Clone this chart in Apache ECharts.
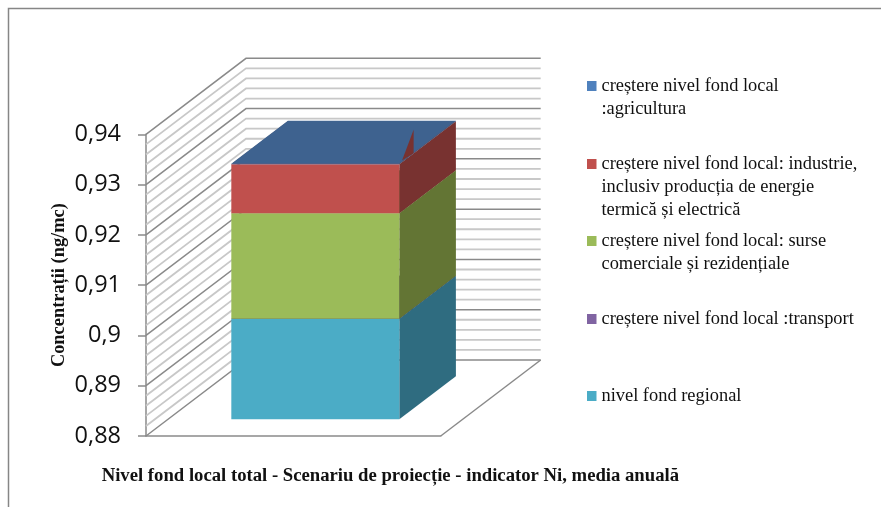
<!DOCTYPE html>
<html><head><meta charset="utf-8">
<style>html,body{margin:0;padding:0;background:#fff}#c{width:881px;height:507px}</style>
<script src="https://cdn.jsdelivr.net/npm/echarts@6/dist/echarts.min.js"></script>
</head><body><div id="c"></div>
<script>
const categories = ['Nivel fond local total'];
const regional = [0.9];
const transport = [0];
const comercial = [0.021];
const industrie = [0.0097];
const agricultura = [0.0001];
const wallValues = [0.88,0.882,0.884,0.886,0.888,0.89,0.892,0.894,0.896,0.898,0.9,0.902,0.904,0.906,0.908,0.91,0.912,0.914,0.916,0.918,0.92,0.922,0.924,0.926,0.928,0.93,0.932,0.934,0.936,0.938,0.94];
const majorValues = [0.88,0.89,0.9,0.91,0.92,0.93,0.94];
const names = ['nivel fond regional','creștere nivel fond local :transport','creștere nivel fond local: surse comerciale și rezidențiale','creștere nivel fond local: industrie, inclusiv producția de energie termică și electrică','creștere nivel fond local :agricultura'];
const legendLabels = {
  [names[4]]: '\ncreștere nivel fond local\n:agricultura',
  [names[3]]: '\n\ncreștere nivel fond local: industrie,\ninclusiv producția de energie\ntermică și electrică',
  [names[2]]: '\ncreștere nivel fond local: surse\ncomerciale și rezidențiale',
  [names[1]]: 'creștere nivel fond local :transport',
  [names[0]]: 'nivel fond regional'
};
const frontColors = ['#4BACC6','#8064A2','#9BBB59','#C0504D','#4F81BD'];
const sideColors = ['#2F6C80','#4C3C62','#637534','#783230','#3E628F'];
const topColors = ['#2F6C80','#4C3C62','#637534','#783230','#3E628F'];
const legendTops = [384.5,307.5,206.5,106.5,51.5];

const DX = 100, DY = 76;          // wall depth on screen
const BAR_F = 16.7 / 76, BAR_B = 59.7 / 76; // bar front/back position inside the depth
const BAR_W = 168;

function poly(points, fill) {
  return {type:'polygon', shape:{points}, style:{fill, stroke:null}};
}
function wallRender(params, api) {
  const v = api.value(1), major = api.value(2) === 1;
  const cs = params.coordSys;
  const y = api.coord([0, v])[1];
  const style = {stroke: major ? '#8a8a8a' : '#c8c8c8', lineWidth: major ? 1.5 : 1.8, fill:null};
  return {type:'polyline', z2: major ? 2 : 1, shape:{points:[[cs.x,y],[cs.x+DX,y-DY],[cs.x+cs.width+DX,y-DY]]}, style};
}
function floorRender(params, api) {
  const cs = params.coordSys;
  const y = cs.y + cs.height, x = cs.x + cs.width;
  return {type:'line', shape:{x1:x,y1:y,x2:x+DX,y2:y-DY}, style:{stroke:'#8a8a8a',lineWidth:1.5}};
}
function barRender(params, api) {
  const i = api.value(3);
  const p0 = api.coord([api.value(0), api.value(1)]);
  const p1 = api.coord([api.value(0), api.value(2)]);
  const fx = DX*BAR_F, fy = DY*BAR_F, sx = DX*(BAR_B-BAR_F), sy = DY*(BAR_B-BAR_F);
  const l = p0[0] - BAR_W/2 + fx, r = l + BAR_W, b = p0[1]-fy, t = p1[1]-fy;
  const ch = [];
  ch.push(poly([[r,b],[r+sx,b-sy],[r+sx,t-sy],[r,t]], sideColors[i]));
  ch.push(poly([[l,t],[r,t],[r+sx,t-sy],[l+sx,t-sy]], topColors[i]));
  ch.push(poly([[l,b],[r,b],[r,t],[l,t]], frontColors[i]));
  if (i === 4) {
    ch.push(poly([[r+2.7,t-3.3],[r+14.3,t-34],[r+14.3,t-10.7]], sideColors[3]));
  }
  return {type:'group', children:ch};
}
const stacks = [regional, transport, comercial, industrie, agricultura];
let running = 0.88;
const barSeries = stacks.map((arr, i) => {
  const start = i === 0 ? 0.88 : running;
  const end = i === 0 ? arr[0] : running + arr[0];
  running = end;
  return {
    type:'custom', name:names[i], coordinateSystem:'cartesian2d', renderItem:barRender,
    itemStyle:{color:frontColors[i]}, encode:{x:0,y:[1,2]}, clip:false, z:3,
    data:[[0,start,end,i]]
  };
});
const chart = echarts.init(document.getElementById('c'), null, {renderer:'canvas'});
const serif = '"Liberation Serif","Times New Roman",serif';
chart.setOption({
  animation:false,
  backgroundColor:'#ffffff',
  grid:{left:146,top:134.3,width:294.7,height:301.7,containLabel:false},
  tooltip:{show:false},
  legend: names.map((n,i)=>({
    data:[{name:n, icon:'rect'}], left:587, top:legendTops[i], orient:'vertical', padding:0,
    itemWidth:9.5, itemHeight:10, selectedMode:false,
    formatter:(name)=>legendLabels[name],
    textStyle:{fontFamily:serif,fontSize:18.4,lineHeight:23,color:'#111'}
  })),
  xAxis:{
    type:'category', data:categories,
    axisLine:{show:true,lineStyle:{color:'#8a8a8a',width:1.5}},
    axisTick:{show:false}, axisLabel:{show:false}, splitLine:{show:false},
    name:'Nivel fond local total - Scenariu de proiecție - indicator Ni, media anuală',
    nameLocation:'middle', nameGap:31,
    nameTextStyle:{fontFamily:serif,fontWeight:'bold',fontSize:18.7,color:'#111',padding:[0,0,0,194]}
  },
  yAxis:{
    type:'value', min:0.88, max:0.94, interval:0.01,
    axisLine:{show:true,lineStyle:{color:'#8a8a8a',width:1.5}},
    axisTick:{show:true,length:8,lineStyle:{color:'#8a8a8a',width:1.5}},
    splitLine:{show:false},
    axisLabel:{margin:25,fontFamily:'"Open Sans"',fontSize:23.5,color:'#111',verticalAlign:'middle',lineHeight:24,padding:[5,0,0,0],
      formatter:v=>String(+v.toFixed(2)).replace('.',',')},
    name:'Concentrații (ng/mc)', nameLocation:'middle', nameGap:78,
    nameTextStyle:{fontFamily:serif,fontWeight:'bold',fontSize:18.4,color:'#111'}
  },
  graphic:[
    {type:'polyline',silent:true,shape:{points:[[8.5,507],[8.5,8.5],[881,8.5]]},style:{stroke:'#868686',lineWidth:1.5,fill:null}}
  ],
  series:[
    {type:'custom',name:'pereți',coordinateSystem:'cartesian2d',renderItem:wallRender,silent:true,clip:false,z:1,
      encode:{x:0,y:1},
      data:wallValues.map(v=>[0,v,majorValues.some(m=>Math.abs(m-v)<1e-9)?1:0])},
    {type:'custom',name:'podea',coordinateSystem:'cartesian2d',renderItem:floorRender,silent:true,clip:false,z:1,
      encode:{x:0,y:1},data:[[0,0.88]]},
    ...barSeries
  ]
});
</script></body></html>
